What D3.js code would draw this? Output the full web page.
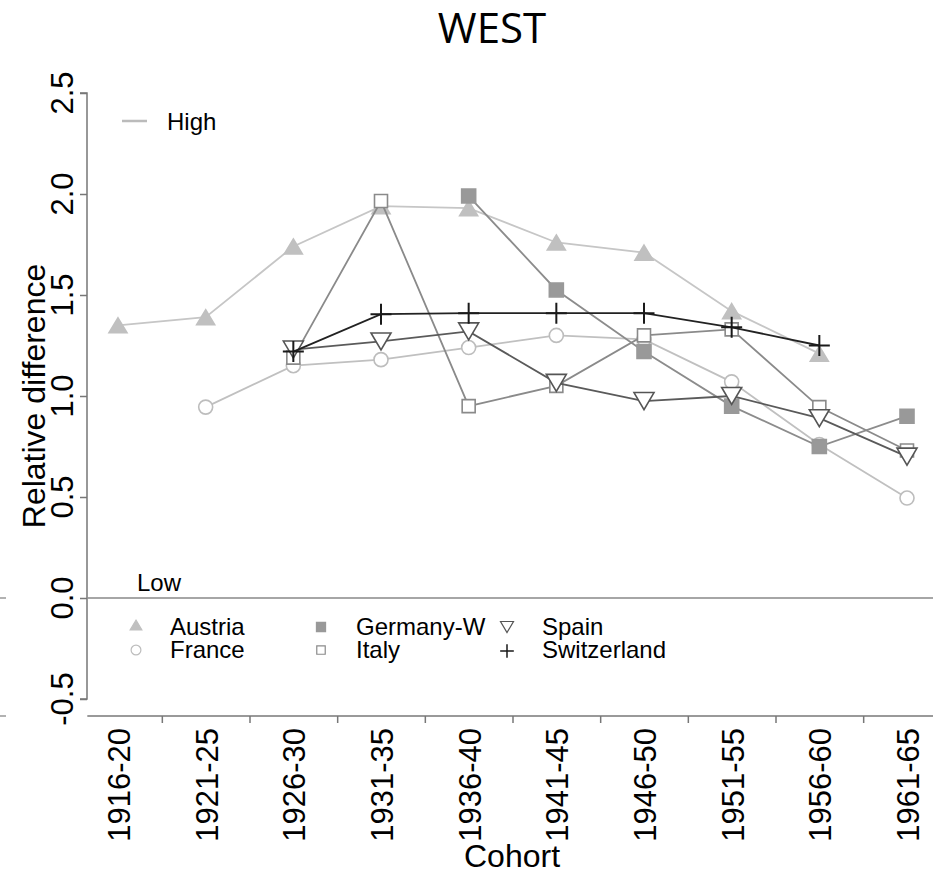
<!DOCTYPE html>
<html>
<head>
<meta charset="utf-8">
<script src="https://cdn.jsdelivr.net/npm/d3@7"></script>
<style>
  html, body { margin: 0; padding: 0; background: #fff; }
  svg { display: block; }
  text { font-family: "Liberation Sans", Arial, sans-serif; fill: #000; }
</style>
</head>
<body>
<svg id="chart" width="933" height="873"></svg>
<script>
// ---------- data ----------
const cohorts = ["1916-20","1921-25","1926-30","1931-35","1936-40","1941-45","1946-50","1951-55","1956-60","1961-65"];
const austria     = [1.35, 1.39, 1.74, 1.94, 1.93, 1.76, 1.71, 1.42, 1.21, null];
const france      = [null, 0.945, 1.15, 1.18, 1.24, 1.30, 1.28, 1.07, 0.76, 0.495];
const germanyW    = [null, null, null, null, 1.99, 1.525, 1.22, 0.95, 0.75, 0.90];
const italy       = [null, null, 1.19, 1.965, 0.95, 1.05, 1.30, 1.33, 0.945, 0.73];
const spain       = [null, null, 1.23, 1.27, 1.32, 1.065, 0.975, 1.00, 0.89, 0.70];
const switzerland = [null, null, 1.22, 1.405, 1.41, 1.41, 1.41, 1.34, 1.25, null];
const yTicks = [-0.5, 0.0, 0.5, 1.0, 1.5, 2.0, 2.5];
const yTickLabels = ["-0.5", "0.0", "0.5", "1.0", "1.5", "2.0", "2.5"];

const series = [
  { name: "Austria",     values: austria,     shape: "tri",  line: "#c6c6c6", stroke: "#c0c0c0", fill: "#c0c0c0" },
  { name: "France",      values: france,      shape: "circ", line: "#c0c0c0", stroke: "#bdbdbd", fill: "#ffffff" },
  { name: "Germany-W",   values: germanyW,    shape: "sqf",  line: "#8c8c8c", stroke: "#999999", fill: "#999999" },
  { name: "Italy",       values: italy,       shape: "sq",   line: "#8a8a8a", stroke: "#8a8a8a", fill: "#ffffff" },
  { name: "Spain",       values: spain,       shape: "itri", line: "#5a5a5a", stroke: "#555555", fill: "#ffffff" },
  { name: "Switzerland", values: switzerland, shape: "plus", line: "#222222", stroke: "#1a1a1a", fill: "none" }
];

// ---------- layout ----------
const svg = d3.select("#chart");
const x = d3.scaleLinear().domain([0, cohorts.length - 1]).range([118, 907]);
const y = d3.scaleLinear().domain([-0.5, 2.5]).range([699, 93]);

function markerPath(shape, s) {
  // s = scale factor (1 for plot markers)
  const p = d3.path();
  if (shape === "tri") {
    const w = 18 * s, h = 15 * s;
    p.moveTo(0, -h / 2); p.lineTo(w / 2, h / 2); p.lineTo(-w / 2, h / 2); p.closePath();
  } else if (shape === "itri") {
    const w = 20 * s, h = 17 * s;
    p.moveTo(-w / 2, -h / 2); p.lineTo(w / 2, -h / 2); p.lineTo(0, h / 2); p.closePath();
  } else if (shape === "circ") {
    p.arc(0, 0, 7 * s, 0, 2 * Math.PI);
  } else if (shape === "sq" || shape === "sqf") {
    const a = (shape === "sqf" ? 14 : 13) * s;
    p.rect(-a / 2, -a / 2, a, a);
  } else if (shape === "plus") {
    const a = 10.5 * s;
    p.moveTo(-a, 0); p.lineTo(a, 0); p.moveTo(0, -a); p.lineTo(0, a);
  }
  return p.toString();
}

// ---------- title ----------
svg.append("text").attr("x", 492).attr("y", 43)
  .attr("text-anchor", "middle")
  .style("font-family", "'Open Sans', sans-serif")
  .style("font-size", "42px")
  .text("WEST");

// ---------- y axis ----------
const yAxisG = svg.append("g").attr("transform", "translate(87,0)")
  .call(d3.axisLeft(y).tickValues(yTicks).tickSize(7).tickFormat(""));
yAxisG.select(".domain").attr("stroke", "#777").attr("stroke-width", 1.5).attr("d", `M-7,${y(2.5)}H0V${y(-0.5)}H-7`);
yAxisG.selectAll(".tick line").attr("stroke", "#777").attr("stroke-width", 1.5);

svg.append("g").selectAll("text").data(yTicks).join("text")
  .attr("transform", d => `translate(73,${y(d)}) rotate(-90)`)
  .attr("text-anchor", "middle")
  .style("font-size", "31px")
  .text((d, i) => yTickLabels[i]);

svg.append("text")
  .attr("transform", `translate(45,${(y(2.5) + y(-0.5)) / 2}) rotate(-90)`)
  .attr("text-anchor", "middle")
  .style("font-size", "32px")
  .text("Relative difference");

// ---------- x axis ----------
const boundaries = d3.range(0.5, cohorts.length - 1, 1);
const xAxisG = svg.append("g").attr("transform", "translate(0,716)")
  .call(d3.axisBottom(x).tickValues(boundaries).tickSize(7).tickFormat(""));
xAxisG.select(".domain").attr("stroke", "#777").attr("stroke-width", 1.5)
  .attr("d", `M${x(-0.35)},0H${x(9.3)}`);
xAxisG.selectAll(".tick line").attr("stroke", "#777").attr("stroke-width", 1.5);

svg.append("g").selectAll("text").data(cohorts).join("text")
  .attr("transform", (d, i) => `translate(${x(i) + 12},728) rotate(-90)`)
  .attr("text-anchor", "end")
  .style("font-size", "31px")
  .text(d => d);

svg.append("text").attr("x", 512).attr("y", 867)
  .attr("text-anchor", "middle")
  .style("font-size", "32px")
  .text("Cohort");

// ---------- zero line ----------
svg.append("line")
  .attr("x1", x(-0.35)).attr("x2", x(9.3))
  .attr("y1", y(0)).attr("y2", y(0))
  .attr("stroke", "#888").attr("stroke-width", 1.5);

// tiny edge marks (neighbouring panel remnants)
svg.append("line").attr("x1", 0).attr("x2", 6).attr("y1", y(0)).attr("y2", y(0)).attr("stroke", "#999").attr("stroke-width", 1.5);
svg.append("line").attr("x1", 0).attr("x2", 6).attr("y1", 716).attr("y2", 716).attr("stroke", "#999").attr("stroke-width", 1.5);

// ---------- High / Low annotations ----------
svg.append("line").attr("x1", 122).attr("x2", 147).attr("y1", 121).attr("y2", 121)
  .attr("stroke", "#bbb").attr("stroke-width", 2.5);
svg.append("text").attr("x", 167).attr("y", 130).style("font-size", "24px").text("High");
svg.append("text").attr("x", 137).attr("y", 591).style("font-size", "24px").text("Low");

// ---------- series ----------
const lineGen = d3.line()
  .defined(d => d.v !== null)
  .x(d => x(d.i)).y(d => y(d.v));

series.forEach(s => {
  const pts = s.values.map((v, i) => ({ i, v }));
  const g = svg.append("g");
  g.append("path").datum(pts)
    .attr("d", lineGen)
    .attr("fill", "none")
    .attr("stroke", s.line)
    .attr("stroke-width", 1.8);
  g.selectAll("path.m").data(pts.filter(d => d.v !== null)).join("path")
    .attr("class", "m")
    .attr("transform", d => `translate(${x(d.i)},${y(d.v)})`)
    .attr("d", markerPath(s.shape, 1))
    .attr("fill", s.fill)
    .attr("stroke", s.stroke)
    .attr("stroke-width", s.shape === "plus" ? 2 : 1.6);
});

// ---------- legend ----------
const legendPos = [
  { sx: 136, sy: 625, tx: 170, ty: 635 },
  { sx: 136, sy: 650, tx: 170, ty: 658 },
  { sx: 321, sy: 627, tx: 356, ty: 635 },
  { sx: 321, sy: 650, tx: 356, ty: 658 },
  { sx: 507, sy: 627, tx: 542, ty: 635 },
  { sx: 507, sy: 651, tx: 542, ty: 658 }
];
const legendOrder = [0, 1, 2, 3, 4, 5];
const lg = svg.append("g");
legendOrder.forEach((si, k) => {
  const s = series[si], p = legendPos[k];
  lg.append("path")
    .attr("transform", `translate(${p.sx},${p.sy})`)
    .attr("d", markerPath(s.shape, s.shape === "circ" ? 0.7 : 0.65))
    .attr("fill", s.fill)
    .attr("stroke", s.stroke)
    .attr("stroke-width", s.shape === "plus" ? 1.5 : 1.2);
  lg.append("text").attr("x", p.tx).attr("y", p.ty)
    .style("font-size", "24px").text(s.name);
});
</script>
</body>
</html>
